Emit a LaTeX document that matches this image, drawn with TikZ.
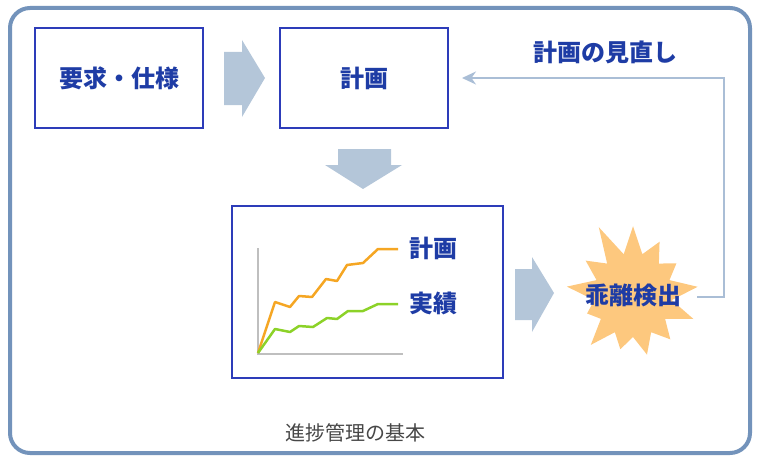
\documentclass[tikz,border=0pt]{standalone}
\usepackage{fontspec}
\setmainfont{Noto Sans CJK JP}
\usetikzlibrary{positioning,arrows.meta,shapes.symbols}

\definecolor{framec}{RGB}{115,147,187}
\definecolor{boxc}{RGB}{45,60,185}
\definecolor{textc}{RGB}{30,60,165}
\definecolor{arrowc}{RGB}{180,198,217}
\definecolor{linec}{RGB}{170,190,214}
\definecolor{planc}{RGB}{245,166,35}
\definecolor{actc}{RGB}{140,210,40}
\definecolor{burstc}{RGB}{253,200,126}

\tikzset{
  box/.style={draw=boxc, line width=2pt, minimum width=168pt, minimum height=99pt,
    text=textc, font=\fontsize{24}{28}\selectfont\bfseries},
  blockarrow/.style={fill=arrowc},
  charttext/.style={text=textc, font=\fontsize{24}{28}\selectfont\bfseries},
  burst/.style={starburst, fill=burstc, starburst points=13, starburst point height=36pt,
    random starburst=11, minimum width=150pt, minimum height=156pt, inner sep=0pt},
  feedback/.style={draw=linec, line width=2pt, -{Stealth[length=14pt,width=13pt]}},
}

\begin{document}
\begin{tikzpicture}[x=1pt,y=-1pt]
\useasboundingbox (0,0) rectangle (757,460);

% frame
\draw[framec, line width=4pt, rounded corners=20pt] (10,8) rectangle (750,453);

% top row
\node[box] (req) at (119,78) {要求・仕様};
\node[box, right=75pt of req] (plan) {計画};

% big grey arrows
\fill[blockarrow] (224,52) -- (242,52) -- (242,40) -- (265,78) -- (242,117) -- (242,105) -- (224,105) -- cycle;
\fill[blockarrow] (338,149) -- (391,149) -- (391,165) -- (402,165) -- (363,189) -- (325,165) -- (338,165) -- cycle;
\fill[blockarrow] (515,269) -- (532,269) -- (532,257) -- (554,293) -- (532,332) -- (532,320) -- (515,320) -- cycle;

% chart
\node[box, minimum width=271pt, minimum height=172pt] (chart) at (367.5,292) {};
\draw[gray!50, line width=1.2pt] (258,248) -- (258,354) -- (403,354);
\draw[planc, line width=2.5pt, line join=round]
  (258,353) -- (275,302) -- (290,307) -- (299,296) -- (312,297) -- (326,279) -- (337,281)
  -- (347,265) -- (363,263) -- (378,249) -- (398,249);
\draw[actc, line width=2.5pt, line join=round]
  (258,353) -- (275,329) -- (290,332) -- (299,326) -- (313,327) -- (327,318) -- (337,319)
  -- (348,311) -- (363,311) -- (378,304) -- (398,304);
\node[charttext] (lplan) at (433,248) {計画};
\node[charttext] (lact) at (433,303) {実績};

% detection
\node[burst] (burst) at (633,295) {};
\node[charttext] (detect) at (burst) {乖離検出};

% feedback
\coordinate (fbstart) at (697,297);
\draw[feedback, shorten >=13pt] (fbstart) -- (724,297) |- (plan.east);
\node[charttext] (review) at (605,52) {計画の見直し};

\node[text=black!72, font=\fontsize{20}{24}\selectfont] (cap) at (355,433) {進捗管理の基本};

\end{tikzpicture}
\end{document}
